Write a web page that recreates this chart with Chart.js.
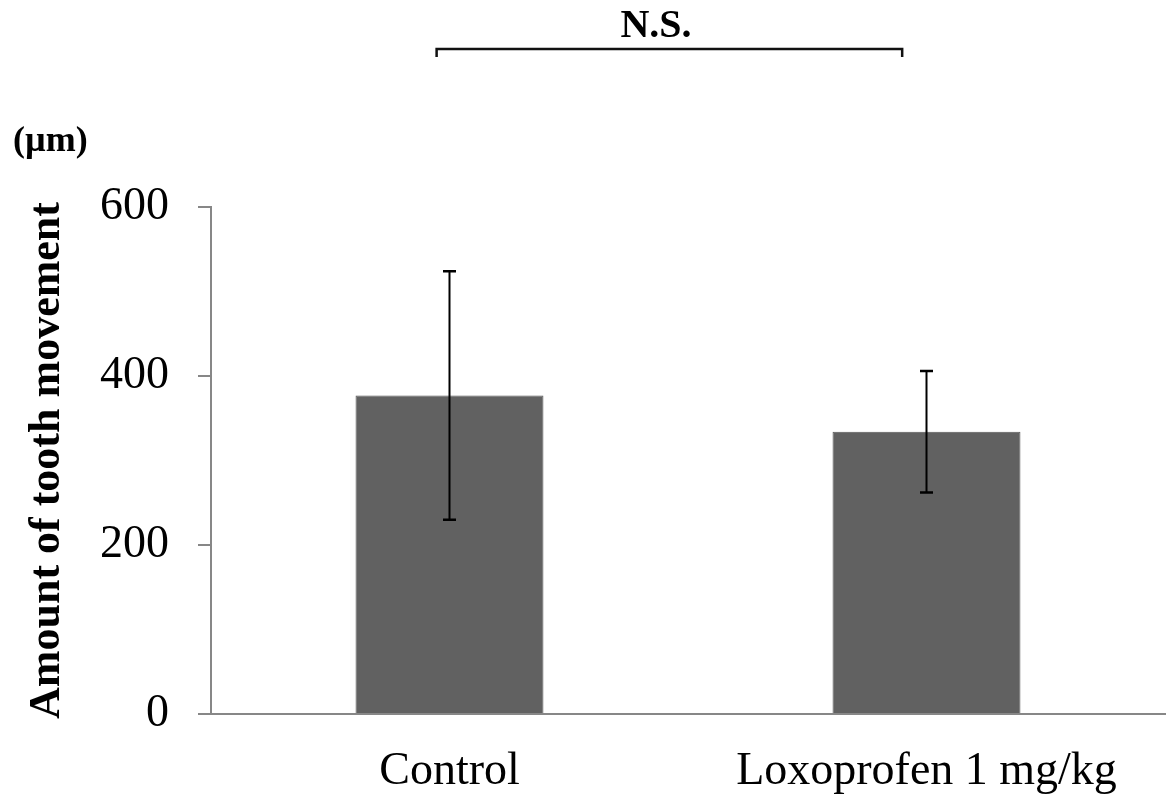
<!DOCTYPE html>
<html>
<head>
<meta charset="utf-8">
<script src="https://cdn.jsdelivr.net/npm/chart.js@4/dist/chart.umd.min.js"></script>
<style>
  html, body { margin: 0; padding: 0; background: #fff; }
  #wrap { width: 1170px; height: 795px; position: relative; }
</style>
</head>
<body>
<div id="wrap"><canvas id="chart" width="1170" height="795"></canvas></div>
<script>
// Group labels, means and standard deviations (µm)
const categories = ['Control', 'Loxoprofen 1 mg/kg'];
const meanValues = [377, 334];
const sdValues = [147, 72];

// Value axis
const yMin = 0;
const yMax = 600;
const yStep = 200;
const yTitle = 'Amount of tooth movement';
const unitLabel = '(\u00b5m)';

// Significance bracket between the two groups (category index span)
const bracketFrom = -0.027;
const bracketTo = 0.949;
const bracketLabel = 'N.S.';

const SERIF = "'Liberation Serif', 'Times New Roman', serif";
const AXIS_GRAY = '#878787';

// Error bars: vertical whisker with caps, mean ± SD
const errorBarPlugin = {
  id: 'errorBars',
  afterDatasetsDraw(chart) {
    const { ctx } = chart;
    const y = chart.scales.y;
    const meta = chart.getDatasetMeta(0);
    ctx.save();
    ctx.strokeStyle = '#000';
    meta.data.forEach((bar, i) => {
      const cx = bar.x;
      const hi = y.getPixelForValue(meanValues[i] + sdValues[i]);
      const lo = y.getPixelForValue(meanValues[i] - sdValues[i]);
      const cap = 6.5;
      ctx.lineWidth = 2;
      ctx.beginPath();
      ctx.moveTo(cx, hi); ctx.lineTo(cx, lo);
      ctx.stroke();
      ctx.lineWidth = 2.5;
      ctx.beginPath();
      ctx.moveTo(cx - cap, hi); ctx.lineTo(cx + cap, hi);
      ctx.moveTo(cx - cap, lo); ctx.lineTo(cx + cap, lo);
      ctx.stroke();
    });
    ctx.restore();
  }
};

// Unit label above the value axis and the significance bracket on top
const annotationPlugin = {
  id: 'annotations',
  afterDraw(chart) {
    const { ctx, chartArea } = chart;
    const x = chart.scales.x;
    ctx.save();
    ctx.fillStyle = '#000';
    ctx.font = 'bold 36px ' + SERIF;
    ctx.textAlign = 'left';
    ctx.textBaseline = 'alphabetic';
    ctx.fillText(unitLabel, 13, chartArea.top - 56);

    const step = x.getPixelForValue(1) - x.getPixelForValue(0);
    const x0 = x.getPixelForValue(0) + bracketFrom * step;
    const x1 = x.getPixelForValue(0) + bracketTo * step;
    const by = 49;
    ctx.strokeStyle = '#111';
    ctx.lineWidth = 2.5;
    ctx.beginPath();
    ctx.moveTo(x0, by + 8); ctx.lineTo(x0, by);
    ctx.lineTo(x1, by); ctx.lineTo(x1, by + 8);
    ctx.stroke();

    ctx.font = 'bold 40px ' + SERIF;
    ctx.textAlign = 'center';
    ctx.fillText(bracketLabel, 656, 37);
    ctx.restore();
  }
};

new Chart(document.getElementById('chart'), {
  type: 'bar',
  data: {
    labels: categories,
    datasets: [{
      data: meanValues,
      backgroundColor: '#616161',
      borderColor: '#565656',
      borderWidth: 1,
      barPercentage: 0.394,
      categoryPercentage: 1.0
    }]
  },
  options: {
    responsive: false,
    animation: false,
    devicePixelRatio: 1,
    layout: { padding: { top: 207, right: 5, left: 0, bottom: 0 } },
    plugins: { legend: { display: false }, tooltip: { enabled: false } },
    scales: {
      x: {
        offset: true,
        grid: { display: false },
        border: { display: true, color: AXIS_GRAY, width: 2 },
        ticks: {
          color: '#000',
          padding: 27,
          font: { family: SERIF, size: 46, lineHeight: 1 },
          maxRotation: 0
        },
        afterFit(scale) { scale.height = 81; }
      },
      y: {
        min: yMin,
        max: yMax,
        grid: {
          display: true,
          drawOnChartArea: false,
          drawTicks: true,
          tickLength: 13,
          color: AXIS_GRAY,
          lineWidth: 2
        },
        border: { display: true, color: AXIS_GRAY, width: 2 },
        ticks: {
          stepSize: yStep,
          color: '#000',
          padding: 29,
          font: { family: SERIF, size: 46, lineHeight: 1 }
        },
        title: {
          display: true,
          text: yTitle,
          color: '#000',
          padding: { top: 26, bottom: 0 },
          font: { family: SERIF, size: 44, weight: 'bold', lineHeight: 1 }
        },
        afterFit(scale) { scale.width = 211; }
      }
    }
  },
  plugins: [errorBarPlugin, annotationPlugin]
});
</script>
</body>
</html>
